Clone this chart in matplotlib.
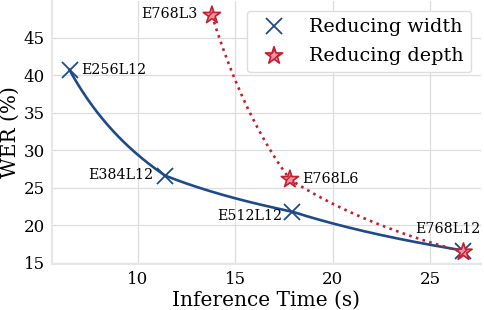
import matplotlib
matplotlib.use('Agg')
import matplotlib.pyplot as plt
import numpy as np

# data
width_names = ['E256L12', 'E384L12', 'E512L12', 'E768L12']
width_time = [6.5, 11.4, 17.9, 26.7]
width_wer = [40.7, 26.6, 21.8, 16.6]

depth_names = ['E768L3', 'E768L6', 'E768L12']
depth_time = [13.8, 17.8, 26.7]
depth_wer = [48.0, 26.1, 16.4]

BLUE = '#1f4a8a'
RED = '#c41e30'


def loglog_curve(x, y, n=300):
    """Join the points with power-law pieces (straight in log-log space)"""
    xs = np.linspace(min(x), max(x), n)
    ys = np.exp(np.interp(np.log(xs), np.log(x), np.log(y)))
    return xs, ys


plt.rcParams['font.family'] = 'DejaVu Serif'
plt.rcParams['hatch.color'] = RED
plt.rcParams['hatch.linewidth'] = 1.0

fig = plt.figure(figsize=(4.84, 3.10), dpi=100)
ax = fig.add_axes([52 / 484, 1 - 264 / 310, (481 - 52) / 484, 263 / 310])

# trend curves
xs, ys = loglog_curve(width_time, width_wer)
ax.plot(xs, ys, color=BLUE, linewidth=1.9, zorder=2)

xs, ys = loglog_curve(depth_time, depth_wer)
ax.plot(xs, ys, color=RED, linewidth=1.9, linestyle=':', zorder=2)

ax.plot(width_time, width_wer, linestyle='none', marker='x', markersize=12,
        markeredgewidth=1.3, color=BLUE, label='Reducing width', zorder=3)
ax.scatter(depth_time, depth_wer, marker='*', s=170, facecolor='#ec94a0',
           edgecolor=RED, hatch='////', linewidth=1.2,
           label='Reducing depth', zorder=4)

# point labels: offset in pixels, alignment
offsets = {
    'E256L12': (12, 0, 'left', 'center'),
    'E384L12': (-12, 1, 'right', 'center'),
    'E512L12': (-10, -4, 'right', 'center'),
    'E768L12': (-16, 15, 'center', 'bottom'),
    'E768L3': (-14, 1, 'right', 'center'),
    'E768L6': (12, 0, 'left', 'center'),
}
for name, x, y in zip(width_names + depth_names[:2], width_time + depth_time[:2],
                      width_wer + depth_wer[:2]):
    dx, dy, ha, va = offsets[name]
    ax.annotate(name, (x, y), textcoords='offset points', xytext=(dx * 0.72, dy * 0.72),
                ha=ha, va=va, fontsize=10.3)

ax.set_xlim(5.6, 27.6)
ax.set_ylim(14.8, 49.9)
ax.set_xticks([10, 15, 20, 25])
ax.set_yticks([15, 20, 25, 30, 35, 40, 45])
ax.tick_params(labelsize=12, length=0, pad=5)
ax.grid(True, color='#dddddd', linewidth=0.9)
ax.set_axisbelow(True)
for side in ['top', 'right']:
    ax.spines[side].set_visible(False)
for side in ['left', 'bottom']:
    ax.spines[side].set_color('#e6e6e6')
    ax.spines[side].set_linewidth(1.5)

ax.set_xlabel('Inference Time (s)', fontsize=14.5, labelpad=2)
ax.set_ylabel('WER (%)', fontsize=14.5, labelpad=3)

leg = ax.legend(loc='upper right', fontsize=13.8, framealpha=1, edgecolor='#dddddd',
                handletextpad=0.83, borderaxespad=0.5, borderpad=0.4,
                labelspacing=0.55)

fig.savefig('out.png', dpi=100)
